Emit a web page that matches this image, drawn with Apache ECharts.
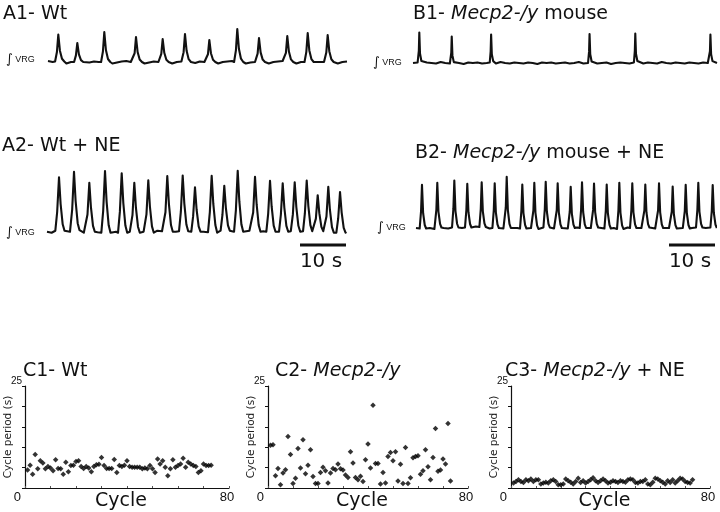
<!DOCTYPE html>
<html><head><meta charset="utf-8">
<script src="https://cdn.jsdelivr.net/npm/echarts@6/dist/echarts.min.js"></script>
<style>html,body{margin:0;padding:0;background:#fff}#c{width:720px;height:512px}</style>
</head><body><div id="c"></div>
<script>
// ---- Trace data (time in s, amplitude in arbitrary units; 0 = baseline) ----
const a1PeakTimes = [2.24,6.37,12.24,19.13,24.93,29.78,35.07,41.15,45.87,52.02,56.46,60.8];
const a1PeakHeights = [27,19,30,25,23,28,22,33,24,26,29,27];
const a1Baseline = [1,0,0.5,-1,-1.5,0,0,0.5,-1.5,-0.5, 0.5,0,0,0,-1.5,-0.5,0.5,1,0,0, 0,-1.5,-0.5,0.5,0,0,-1,-1.5,0,0.5, 0,-1,-1,0.5,0,0,-1,-1.5,0,0.5, 1,0,0,-1.5,-0.5,0,0,-1,-1.5,0, 0.5,1,0,-1,-1.5,0,0,-0.5,-1.5,0, 0,0,-1,-1.5,0,0.5];

const b1PeakTimes = [1.37,8.41,16.96,38.33,48.26,64.57];
const b1PeakHeights = [30,27,28,29,29,28];
const b1Baseline = [0,0.5,-0.5,0.5,0,-0.5,1,0,-0.5,0.5, 0,-1,0.5,0,0.5,-0.5,0,0.5,-0.5,1, 0,-0.5,0.5,0,-0.5,0.5,0,-1,0.5,0, 0.5,-0.5,0,0.5,-0.5,0,1,-0.5,0,0.5, -0.5,0,0.5,-1,0,0.5,0,-0.5,0.5,0, -0.5,0.5,0,-0.5,1,0,-0.5,0.5,0,-0.5, 0.5,0,-0.5,0.5,0,0.5,0];

const a2PeakTimes = [2.61,5.87,9.2,12.61,16.24,18.98,22.02,26.15,29.5,32.17,35.8,38.54,41.46,45.22,48.48,51.24,53.85,56.46,58.85,61.15,63.7];
const a2PeakHeights = [53.4,58.4,49,61.7,59.4,50,52.4,55.7,55.7,44.4,56,45,61,55,51,48.4,49.4,50.7,36,46,40.7];
const a2Baseline = [0,-1,0.5,1,-1,0,1.5,0,-1,0, 1,-0.5,0,-1,1,0,-1,0.5,0,-1, 1.5,0,-1,0,1,0.5,0,-1,0,1, 0.5,-1,0,1,0,-0.5,0,-1,0.5,1, 0,0,-1,0.5,1,0,-1,0.5,0,-1, 1,0,-1,0.5,0,-1,0.5,0,-1,0.5, 0,-1,0.5,0,-1,0];

const b2PeakTimes = [1.3,4.63,8.33,11.15,14.28,17.11,19.72,23.11,25.72,28.2,30.8,33.63,36.09,38.7,41.46,44.2,47.02,49.85,52.83,55.8,58.63,61.37,64.5];
const b2PeakHeights = [43.7,44.7,47,43.7,44.7,44.7,51.3,44,46.3,45.7,44.7,41.3,45.7,44,44,46.3,44.7,43,44.7,42,43.7,44.7,43];
const b2Baseline = [0,-0.5,0.5,0,-1,0.5,0,-0.5,0.5,1, 0,0.5,1,1.5,1,0,-0.5,0,0.5,-0.5, 0,0.5,0,-0.5,0.5,0,-1,0,0.5,0, -0.5,0,0.5,-0.5,0,0.5,0,-0.5,0,0.5, 0,-0.5,0.5,0,-1,0,0.5,0,-0.5,0, 0.5,0,-0.5,0,0.5,0,-0.5,0.5,0,-0.5, 0,0.5,-0.5,0,0.5,0];

const scaleBarSpan = [55, 65];   // seconds
const scaleBarText = '10 s';

// ---- Cycle period data (s), one value per cycle starting at cycle 1 ----
const c1Periods = [4.4,5.6,3.4,8.2,4.7,6.7,6.1,4.7,5.3,4.9, 4.2,6.9,4.8,4.7,3.4,6.3,4.0,5.5,5.6,6.5, 6.7,5.3,4.8,5.3,4.9,4.0,5.3,5.7,5.8,7.5, 5.5,4.8,4.8,4.8,7.0,3.8,5.5,5.3,5.6,6.7, 5.3,5.1,5.1,5.1,5.1,4.7,4.9,4.7,5.5,4.7, 3.8,7.1,5.9,6.7,5.1,3.0,4.7,6.9,5.1,5.5, 5.9,7.3,5.1,6.3,5.9,5.5,5.3,3.8,4.2,5.9, 5.5,5.5,5.6];
const c2Periods = [10.5,10.6,3.0,4.8,0.8,3.7,4.5,12.6,8.2,1.1, 2.4,9.7,4.9,11.8,3.5,5.6,9.4,2.8,1.1,1.1, 3.8,5.1,4.2,1.2,3.7,4.8,4.5,5.9,4.7,4.4, 3.2,2.6,8.9,6.1,2.6,2.0,2.9,1.6,6.9,10.8, 4.9,20.3,6.0,6.0,1.0,3.8,1.2,7.7,8.7,6.7, 8.9,1.7,5.8,1.1,9.9,1.1,2.5,7.4,7.7,7.9, 3.4,4.2,9.4,5.2,2.0,7.5,14.6,4.1,4.4,7.1, 5.9,15.8,1.7];
const c3Periods = [1.2,1.6,2.0,1.6,1.35,2.0,1.75,2.2,1.6, 2.0,2.0,1.0,1.2,1.4,1.2,1.75,2.0,1.6, 0.8,0.8,0.95,2.2,1.75,1.4,1.0,1.6,2.4, 1.35,1.75,1.2,1.6,2.0,2.5,1.75,1.35,1.75, 2.2,1.75,1.2,1.4,1.75,1.6,1.35,1.75,1.6, 1.4,2.0,2.2,2.0,1.35,1.2,1.6,1.6,2.0, 0.95,0.8,1.4,2.4,2.2,1.75,1.4,1.0,1.75, 1.35,2.0,1.2,1.75,2.4,2.2,1.6,1.35,1.2,2.0];

const cycleAxisTicks = [0, 80];
const periodAxisMax = 25;

// ---- style helpers ----
const FONT = '"DejaVu Sans", "Liberation Sans", Arial, sans-serif';
const INK = '#111';

function buildTrace(times, heights, baseline, shape) {
  const lo = shape[0][0], hi = shape[shape.length - 1][0];
  const pts = [];
  baseline.forEach((v, i) => {
    if (!times.some(p => i > p + lo && i < p + hi)) pts.push([i, v]);
  });
  times.forEach((p, k) => {
    const b = baseline[Math.min(baseline.length - 1, Math.max(0, Math.round(p)))];
    shape.forEach(([dt, f]) => pts.push([p + dt, b + f * heights[k]]));
  });
  pts.sort((a, b) => a[0] - b[0]);
  return pts;
}
const shapeA1 = [[-0.7,0],[-0.3,0.35],[0,1],[0.35,0.4],[0.8,0.1],[1.3,0]];
const shapeB1 = [[-0.3,0],[-0.1,0.4],[0,1],[0.15,0.3],[0.45,0.05],[0.8,0]];
const shapeA2 = [[-0.8,0],[-0.4,0.35],[0,1],[0.35,0.5],[0.8,0.12],[1.2,0]];
const shapeB2 = [[-0.5,0],[-0.2,0.4],[0,1],[0.25,0.35],[0.6,0.08],[0.9,0]];

const traceGrids = [
  {left: 48, top: 28, width: 299, height: 42, xmax: 65, ymin: -8, ymax: 34},
  {left: 413, top: 31, width: 304, height: 40, xmax: 66, ymin: -8, ymax: 32},
  {left: 47, top: 167.7, width: 299, height: 80, xmax: 65, ymin: -16, ymax: 64},
  {left: 416, top: 174, width: 299, height: 74, xmax: 65, ymin: -20, ymax: 54}
];
const cGrids = [
  {left: 25, top: 386, width: 204, height: 102},
  {left: 268, top: 386, width: 200, height: 102},
  {left: 511, top: 386, width: 199, height: 102}
];

const grid = [], xAxis = [], yAxis = [], series = [];
traceGrids.forEach(g => {
  grid.push({left: g.left, top: g.top, width: g.width, height: g.height, containLabel: false, outerBoundsMode: 'none'});
  const i = grid.length - 1;
  xAxis.push({gridIndex: i, type: 'value', min: 0, max: g.xmax, show: false});
  yAxis.push({gridIndex: i, type: 'value', min: g.ymin, max: g.ymax, show: false});
});
const traces = [
  buildTrace(a1PeakTimes, a1PeakHeights, a1Baseline, shapeA1),
  buildTrace(b1PeakTimes, b1PeakHeights, b1Baseline, shapeB1),
  buildTrace(a2PeakTimes, a2PeakHeights, a2Baseline, shapeA2),
  buildTrace(b2PeakTimes, b2PeakHeights, b2Baseline, shapeB2)
];
traces.forEach((d, i) => {
  series.push({type: 'line', xAxisIndex: i, yAxisIndex: i, data: d, symbol: 'none',
    lineStyle: {color: INK, width: 2.1, join: 'round'}, silent: true, clip: false});
});
// scale bars in A2 and B2 grids
[[2, -13.3], [3, -17]].forEach(([gi, yv]) => {
  series.push({type: 'line', xAxisIndex: gi, yAxisIndex: gi, symbol: 'none', clip: false,
    data: [[scaleBarSpan[0], yv], [scaleBarSpan[1], yv]], lineStyle: {color: INK, width: 3.2}});
});

const periodSets = [c1Periods, c2Periods, c3Periods];
cGrids.forEach((g, k) => {
  grid.push({left: g.left, top: g.top, width: g.width, height: g.height, containLabel: false, outerBoundsMode: 'none'});
  const i = grid.length - 1;
  xAxis.push({gridIndex: i, type: 'value', min: cycleAxisTicks[0], max: cycleAxisTicks[1], interval: 10,
    axisLine: {lineStyle: {color: INK, width: 1.2}},
    axisTick: {inside: true, length: 2, lineStyle: {color: '#555'}},
    splitLine: {show: false},
    axisLabel: {color: INK, fontFamily: '"Liberation Sans", Arial, sans-serif', fontSize: 13, margin: 3,
      alignMinLabel: 'right', padding: [0, 4, 0, 0],
      formatter: v => (cycleAxisTicks.includes(v) ? String(v) : '')},
    name: 'Cycle', nameLocation: 'middle', nameGap: 4, nameMoveOverlap: false,
    nameTextStyle: {color: INK, fontFamily: FONT, fontSize: 19, verticalAlign: 'top', padding: [0, 12, 0, 0]}});
  yAxis.push({gridIndex: i, type: 'value', min: 0, max: periodAxisMax, interval: 5,
    axisLine: {show: true, lineStyle: {color: INK, width: 1.2}},
    axisTick: {show: true, inside: false, length: 3, lineStyle: {color: INK}},
    splitLine: {show: false},
    axisLabel: {color: INK, fontFamily: '"Liberation Sans", Arial, sans-serif', fontSize: 10, margin: 3,
      verticalAlign: 'bottom', formatter: v => (v === periodAxisMax ? String(v) : '')},
    name: 'Cycle period (s)', nameLocation: 'middle', nameGap: 11, nameMoveOverlap: false,
    nameTextStyle: {color: '#222', fontFamily: FONT, fontSize: 10.5}});
  series.push({type: 'scatter', xAxisIndex: i, yAxisIndex: i, symbol: 'diamond', symbolSize: 5.5,
    itemStyle: {color: '#000'}, data: periodSets[k].map((v, j) => [j + 1, v])});
});

const rich = {
  n: {fontFamily: FONT, fontSize: 19, color: INK, fontWeight: 'normal'},
  i: {fontFamily: FONT, fontSize: 19, color: INK, fontStyle: 'italic', fontWeight: 'normal'}
};
function ttl(text, left, top) {
  return {text, left, top, padding: 0, textStyle: {fontWeight: 'normal', rich}};
}
const title = [
  ttl('{n|A1- Wt}', 3, 5),
  ttl('{n|B1- }{i|Mecp2-/y}{n| mouse}', 413, 5),
  ttl('{n|A2- Wt + NE}', 2, 137),
  ttl('{n|B2- }{i|Mecp2-/y}{n| mouse + NE}', 415, 144),
  ttl('{n|C1- Wt}', 23, 362),
  ttl('{n|C2- }{i|Mecp2-/y}', 275, 362),
  ttl('{n|C3- }{i|Mecp2-/y}{n| + NE}', 505, 362)
];

function vrg(x, y) {
  return {type: 'text', x, y, silent: true, style: {
    text: '{s|∫}{v| VRG}', verticalAlign: 'middle',
    rich: {s: {fontFamily: FONT, fontSize: 13, fill: INK}, v: {fontFamily: '"Liberation Sans", Arial, sans-serif', fontSize: 9, fill: INK}}}};
}
function barLabel(x, y) {
  return {type: 'text', x, y, silent: true, style: {text: scaleBarText, align: 'center', verticalAlign: 'middle',
    font: '20px ' + FONT, fill: INK}};
}
const graphic = [vrg(6, 60), vrg(373, 63), vrg(6, 233), vrg(377, 228), barLabel(321, 262), barLabel(690, 262)];

const chart = echarts.init(document.getElementById('c'), null, {renderer: 'canvas'});
chart.setOption({backgroundColor: '#fff', animation: false, title, grid, xAxis, yAxis, series, graphic});
</script></body></html>
